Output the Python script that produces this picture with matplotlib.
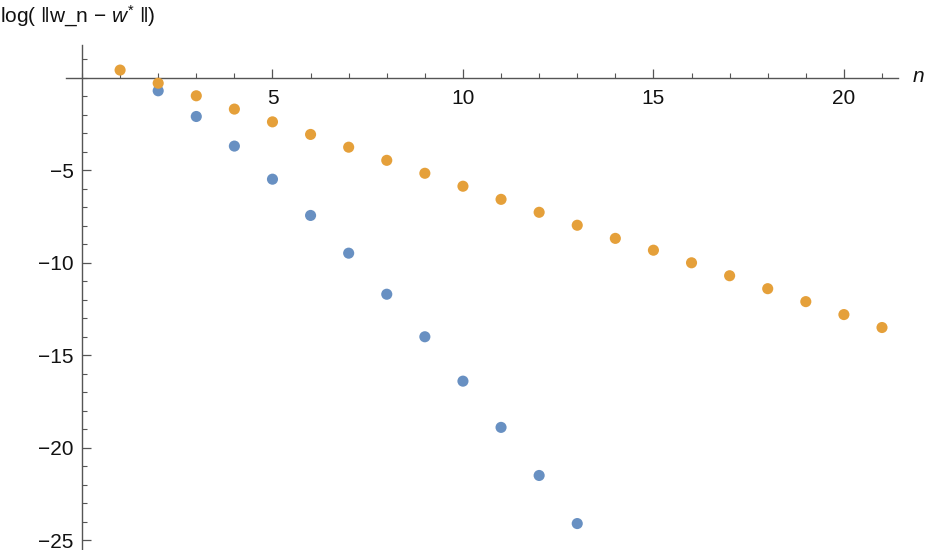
import matplotlib.pyplot as plt
from matplotlib.ticker import MultipleLocator, FixedLocator
import numpy as np

plt.rcParams['font.family'] = ['Liberation Sans', 'DejaVu Sans']
plt.rcParams['mathtext.fontset'] = 'custom'
plt.rcParams['mathtext.rm'] = 'Liberation Sans'
plt.rcParams['mathtext.it'] = 'Liberation Sans:italic'

# blue series: n = 2..13
n_blue = [2, 3, 4, 5, 6, 7, 8, 9, 10, 11, 12, 13]
log_blue = [-0.70, -2.09, -3.69, -5.48, -7.44, -9.48, -11.7, -14.0, -16.4, -18.9, -21.5, -24.1]

# orange series: n = 1..21
n_orange = list(range(1, 22))
log_orange = [0.42, -0.29, -0.97, -1.69, -2.38, -3.06, -3.75, -4.46, -5.16, -5.86, -6.57,
              -7.27, -7.97, -8.68, -9.32, -10.0, -10.7, -11.4, -12.1, -12.8, -13.5]

blue = '#6890C2'
orange = '#E5A03A'
axis_color = '#555555'

fig = plt.figure(figsize=(9.28, 5.5), dpi=100)
ax = fig.add_axes([66 / 928, 0.001, (898 - 66) / 928, 0.918])

ax.scatter(n_blue, log_blue, s=64, color=blue, edgecolors='none', zorder=3)
ax.scatter(n_orange, log_orange, s=64, color=orange, edgecolors='none', zorder=3)

ax.set_xlim(-0.42, 21.42)
ax.set_ylim(-25.5, 1.8)

for side in ['top', 'right']:
    ax.spines[side].set_visible(False)
ax.spines['left'].set_position(('data', 0))
ax.spines['bottom'].set_position(('data', 0))
for side in ['left', 'bottom']:
    ax.spines[side].set_color(axis_color)
    ax.spines[side].set_linewidth(1.0)

ax.xaxis.set_major_locator(FixedLocator([5, 10, 15, 20]))
ax.xaxis.set_minor_locator(MultipleLocator(1))
ax.yaxis.set_major_locator(FixedLocator([-5, -10, -15, -20, -25]))
ax.yaxis.set_minor_locator(MultipleLocator(1))
ax.set_yticklabels(['\u22125', '\u221210', '\u221215', '\u221220', '\u221225'])

ax.tick_params(which='both', direction='in', color=axis_color, labelsize=15, labelcolor='#111111')
ax.tick_params(which='major', length=6.5, width=0.9)
ax.tick_params(which='minor', length=3.5, width=0.8)
ax.tick_params(axis='x', pad=8)
ax.tick_params(axis='y', pad=6)

fig.text(0.0, 1 - 16 / 550, 'log( \u2016w_n \u2212 $w^{*}$ \u2016)', fontsize=15,
         ha='left', va='center', color='#111111')
fig.text(918 / 928, 1 - 77 / 550, 'n', fontsize=15, style='italic',
         ha='center', va='center', color='#111111')

fig.savefig('out.png', dpi=100)
